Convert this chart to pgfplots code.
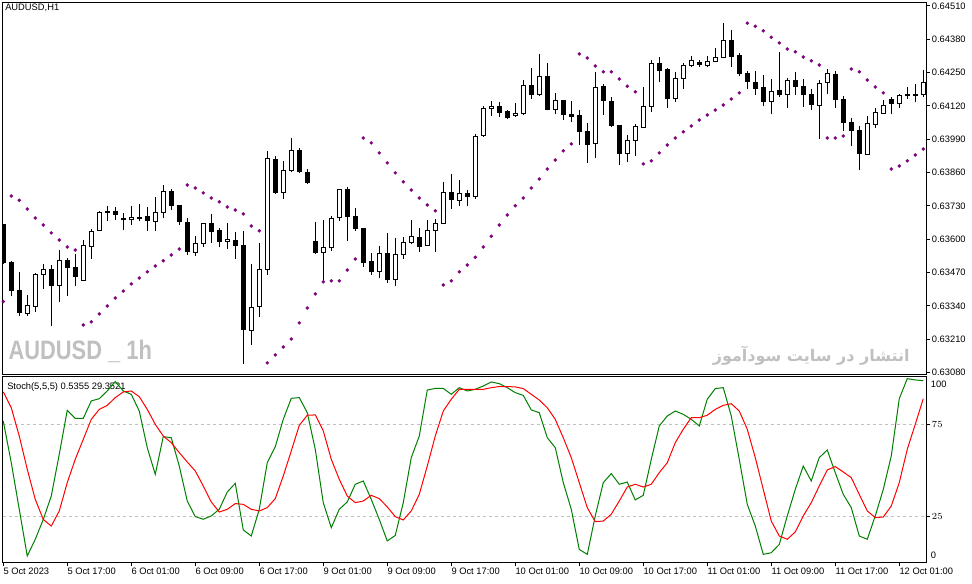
\documentclass[border=0pt]{standalone}
\usepackage{fontspec}
\setmainfont{Liberation Sans}
\newfontfamily\persianfont[Script=Arabic]{DejaVu Sans}
\usepackage{pgfplots}
\pgfplotsset{compat=1.18}
\usepackage{pgfplotstable}
\TeXXeTstate=1
\definecolor{sarc}{HTML}{800080}
\definecolor{kline}{HTML}{008000}
\definecolor{dline}{HTML}{FF0000}
\definecolor{wm}{HTML}{C0C0C0}

\pgfplotstableread{
i o h l c
0 0.63656 0.63660 0.63504 0.63509
1 0.63510 0.63516 0.63380 0.63400
2 0.63399 0.63473 0.63302 0.63314
3 0.63312 0.63383 0.63302 0.63340
4 0.63337 0.63469 0.63318 0.63464
5 0.63464 0.63503 0.63407 0.63483
6 0.63483 0.63499 0.63263 0.63419
7 0.63421 0.63558 0.63357 0.63518
8 0.63516 0.63526 0.63379 0.63489
9 0.63491 0.63543 0.63418 0.63454
10 0.63439 0.63597 0.63437 0.63577
11 0.63573 0.63639 0.63524 0.63631
12 0.63634 0.63712 0.63632 0.63705
13 0.63709 0.63730 0.63673 0.63704
14 0.63709 0.63725 0.63675 0.63696
15 0.63682 0.63702 0.63636 0.63677
16 0.63677 0.63730 0.63657 0.63686
17 0.63686 0.63738 0.63673 0.63683
18 0.63687 0.63725 0.63634 0.63673
19 0.63669 0.63764 0.63634 0.63705
20 0.63705 0.63812 0.63684 0.63785
21 0.63785 0.63795 0.63716 0.63731
22 0.63733 0.63733 0.63657 0.63669
23 0.63666 0.63682 0.63540 0.63552
24 0.63549 0.63613 0.63536 0.63585
25 0.63585 0.63663 0.63571 0.63663
26 0.63663 0.63699 0.63587 0.63630
27 0.63636 0.63643 0.63571 0.63591
28 0.63592 0.63664 0.63563 0.63600
29 0.63596 0.63627 0.63524 0.63575
30 0.63577 0.63633 0.63115 0.63248
31 0.63245 0.63503 0.63189 0.63335
32 0.63339 0.63585 0.63298 0.63483
33 0.63483 0.63943 0.63462 0.63916
34 0.63912 0.63924 0.63778 0.63782
35 0.63783 0.63904 0.63758 0.63869
36 0.63869 0.63994 0.63861 0.63947
37 0.63947 0.63955 0.63858 0.63864
38 0.63861 0.63873 0.63817 0.63822
39 0.63592 0.63668 0.63543 0.63548
40 0.63548 0.63675 0.63431 0.63569
41 0.63567 0.63690 0.63556 0.63682
42 0.63684 0.63795 0.63673 0.63795
43 0.63795 0.63803 0.63595 0.63688
44 0.63690 0.63722 0.63634 0.63641
45 0.63643 0.63643 0.63493 0.63509
46 0.63514 0.63546 0.63462 0.63474
47 0.63475 0.63575 0.63450 0.63546
48 0.63546 0.63624 0.63431 0.63443
49 0.63443 0.63604 0.63419 0.63542
50 0.63542 0.63610 0.63524 0.63588
51 0.63588 0.63675 0.63581 0.63612
52 0.63608 0.63644 0.63552 0.63571
53 0.63577 0.63675 0.63575 0.63635
54 0.63635 0.63679 0.63552 0.63663
55 0.63663 0.63824 0.63661 0.63783
56 0.63783 0.63855 0.63719 0.63756
57 0.63752 0.63831 0.63731 0.63780
58 0.63780 0.63792 0.63731 0.63766
59 0.63766 0.64010 0.63758 0.64002
60 0.64004 0.64119 0.64000 0.64111
61 0.64109 0.64140 0.64082 0.64119
62 0.64119 0.64136 0.64078 0.64094
63 0.64099 0.64103 0.64070 0.64074
64 0.64082 0.64132 0.64078 0.64092
65 0.64092 0.64220 0.64086 0.64201
66 0.64201 0.64268 0.64148 0.64164
67 0.64164 0.64323 0.64160 0.64236
68 0.64236 0.64288 0.64104 0.64106
69 0.64106 0.64171 0.64090 0.64142
70 0.64142 0.64143 0.64067 0.64086
71 0.64088 0.64140 0.64059 0.64078
72 0.64084 0.64104 0.63969 0.64020
73 0.64021 0.64054 0.63899 0.63969
74 0.63973 0.64253 0.63918 0.64193
75 0.64197 0.64206 0.64086 0.64141
76 0.64138 0.64155 0.64039 0.64043
77 0.64045 0.64046 0.63891 0.63934
78 0.63936 0.64006 0.63903 0.63986
79 0.63986 0.64049 0.63926 0.64041
80 0.64037 0.64194 0.64035 0.64119
81 0.64119 0.64298 0.64098 0.64287
82 0.64287 0.64310 0.64215 0.64259
83 0.64263 0.64267 0.64113 0.64148
84 0.64148 0.64251 0.64137 0.64228
85 0.64228 0.64287 0.64187 0.64279
86 0.64279 0.64314 0.64273 0.64298
87 0.64290 0.64298 0.64271 0.64283
88 0.64279 0.64314 0.64271 0.64294
89 0.64294 0.64345 0.64290 0.64310
90 0.64310 0.64443 0.64306 0.64376
91 0.64376 0.64415 0.64271 0.64314
92 0.64318 0.64326 0.64236 0.64248
93 0.64248 0.64255 0.64185 0.64216
94 0.64212 0.64255 0.64162 0.64189
95 0.64193 0.64240 0.64119 0.64138
96 0.64138 0.64224 0.64088 0.64177
97 0.64179 0.64329 0.64156 0.64163
98 0.64166 0.64228 0.64113 0.64218
99 0.64218 0.64253 0.64162 0.64197
100 0.64197 0.64224 0.64117 0.64166
101 0.64166 0.64185 0.64106 0.64125
102 0.64123 0.64221 0.63992 0.64209
103 0.64212 0.64263 0.64166 0.64248
104 0.64244 0.64257 0.64113 0.64146
105 0.64146 0.64158 0.64024 0.64055
106 0.64056 0.64073 0.63965 0.64024
107 0.64026 0.64042 0.63872 0.63934
108 0.63930 0.64080 0.63928 0.64053
109 0.64049 0.64111 0.64033 0.64095
110 0.64092 0.64142 0.64090 0.64123
111 0.64146 0.64154 0.64088 0.64131
112 0.64131 0.64166 0.64111 0.64162
113 0.64166 0.64193 0.64148 0.64160
114 0.64166 0.64205 0.64134 0.64160
115 0.64166 0.64259 0.64154 0.64212
}\candles

\pgfplotstableread{
i s
0 0.63357
1 0.63769
2 0.63752
3 0.63718
4 0.63683
5 0.63656
6 0.63625
7 0.63597
8 0.63570
9 0.63558
10 0.63266
11 0.63278
12 0.63309
13 0.63340
14 0.63371
15 0.63398
16 0.63426
17 0.63449
18 0.63473
19 0.63496
20 0.63516
21 0.63539
22 0.63562
23 0.63812
24 0.63800
25 0.63781
26 0.63761
27 0.63746
28 0.63726
29 0.63714
30 0.63699
31 0.63652
32 0.63633
33 0.63118
34 0.63149
35 0.63180
36 0.63211
37 0.63274
38 0.63332
39 0.63387
40 0.63434
41 0.63438
42 0.63438
43 0.63480
44 0.63523
45 0.63995
46 0.63976
47 0.63937
48 0.63898
49 0.63859
50 0.63824
51 0.63792
52 0.63761
53 0.63734
54 0.63711
55 0.63422
56 0.63438
57 0.63473
58 0.63500
59 0.63530
60 0.63570
61 0.63612
62 0.63656
63 0.63695
64 0.63731
65 0.63761
66 0.63800
67 0.63835
68 0.63874
69 0.63909
70 0.63945
71 0.63972
72 0.64323
73 0.64307
74 0.64276
75 0.64253
76 0.64253
77 0.64225
78 0.64197
79 0.64175
80 0.63894
81 0.63906
82 0.63937
83 0.63968
84 0.63995
85 0.64019
86 0.64042
87 0.64065
88 0.64085
89 0.64104
90 0.64124
91 0.64147
92 0.64171
93 0.64443
94 0.64431
95 0.64413
96 0.64388
97 0.64366
98 0.64342
99 0.64331
100 0.64311
101 0.64296
102 0.64280
103 0.63995
104 0.63995
105 0.64003
106 0.64264
107 0.64253
108 0.64221
109 0.64194
110 0.64171
111 0.63874
112 0.63886
113 0.63906
114 0.63929
115 0.63952
}\sar

\pgfplotstableread{
i k d
0 76.8 92.6
1 54.1 84.0
2 28.8 68.6
3 3.4 50.5
4 12.5 34.2
5 23.3 23.3
6 36.0 19.7
7 58.7 27.9
8 82.6 43.3
9 78.2 56.0
10 78.2 66.8
11 87.7 77.7
12 88.9 83.1
13 93.1 85.3
14 98.2 89.5
15 93.1 92.6
16 91.3 93.1
17 82.2 90.0
18 62.3 83.1
19 47.8 75.0
20 68.3 68.6
21 67.7 65.0
22 52.3 59.6
23 33.3 54.5
24 24.8 49.6
25 23.4 41.5
26 25.2 32.8
27 28.8 27.3
28 38.2 28.8
29 42.9 31.9
30 17.6 31.5
31 14.3 28.8
32 28.8 27.9
33 54.1 29.7
34 62.8 34.6
35 77.7 46.9
36 89.1 60.5
37 89.5 74.4
38 81.3 79.9
39 61.4 80.1
40 32.4 71.4
41 18.8 56.0
42 28.8 45.1
43 32.8 36.0
44 42.4 32.4
45 44.2 33.3
46 34.2 36.4
47 23.3 34.6
48 11.6 30.1
49 14.6 24.8
50 32.4 23.0
51 56.9 27.9
52 68.6 36.9
53 93.6 52.3
54 94.5 68.6
55 94.5 82.2
56 91.3 88.6
57 94.9 94.0
58 93.1 94.0
59 94.0 94.0
60 95.8 94.0
61 98.0 94.9
62 97.1 95.5
63 94.9 95.5
64 92.2 95.3
65 90.7 94.4
66 82.8 91.3
67 81.3 88.2
68 67.7 84.0
69 62.3 77.7
70 43.3 67.7
71 28.8 56.9
72 7.0 43.3
73 4.3 29.7
74 25.2 22.1
75 43.3 22.4
76 48.2 26.1
77 42.4 33.3
78 43.6 40.9
79 33.9 42.4
80 36.4 40.9
81 55.9 42.4
82 74.1 48.7
83 79.5 54.1
84 82.2 65.0
85 80.4 72.3
86 77.7 78.6
87 74.1 78.6
88 88.6 79.9
89 94.4 83.1
90 94.9 85.3
91 79.5 86.2
92 55.9 82.2
93 31.5 72.3
94 19.7 56.9
95 4.3 39.6
96 5.2 22.4
97 9.7 14.3
98 25.2 12.5
99 39.6 16.5
100 52.3 25.2
101 44.2 32.4
102 56.9 41.5
103 61.0 50.2
104 48.7 52.0
105 36.9 49.1
106 29.7 46.0
107 14.3 36.9
108 12.5 27.9
109 25.2 24.3
110 39.6 24.6
111 57.8 30.6
112 88.9 43.3
113 99.8 61.4
114 99.1 75.0
115 98.7 88.9
}\stoch

\pgfplotsset{candle/.style={draw=none, mark=none, forget plot}}

\begin{document}
\begin{tikzpicture}
\path[use as bounding box] (0,0) rectangle (729pt,438pt);
\fill[white] (0,0) rectangle (729pt,438pt);
% watermarks
\node[anchor=base west, inner sep=0pt, text=wm, font=\fontsize{20}{24}\selectfont\bfseries] at (6.2pt,168pt) {\scalebox{0.82}[1]{AUDUSD \_ 1h}};
\node[anchor=east, inner sep=0pt, text=wm, font=\fontsize{12}{14}\selectfont] at (682.5pt,171.2pt) {\persianfont\bfseries\beginR انتشار در سایت سودآموز\endR};

\begin{axis}[
  at={(2pt,157.3pt)}, anchor=south west,
  scale only axis, width=693pt, height=278.7pt,
  xmin=-0.075, xmax=115.425,
  ymin=0.630736, ymax=0.645229,
  xtick=\empty,
  ytick={0.6308,0.6321,0.6334,0.6347,0.6360,0.6373,0.6386,0.6399,0.6412,0.6425,0.6438,0.6451},
  ytick pos=right, yticklabel pos=right,
  tick align=outside, major tick length=2.25pt,
  tick style={black, line width=0.75pt},
  scaled y ticks=false,
  yticklabel style={font=\fontsize{7}{8}\selectfont, inner sep=1.5pt, /pgf/number format/.cd, fixed, fixed zerofill, precision=5, assume math mode=true},
  axis line style={line width=0.75pt},
]
\addplot[candle, error bars/.cd, y dir=plus, y explicit, error mark=none, error bar style={draw=black, line width=0.75pt}]
  table[x=i, y=l, y error plus expr={\thisrow{h}-\thisrow{l}}] {\candles};
\addplot[candle, error bars/.cd, y dir=plus, y explicit, error mark=none, error bar style={draw=black, line width=3.75pt}]
  table[x=i, y expr={min(\thisrow{o},\thisrow{c})-0.00002}, y error plus expr={abs(\thisrow{c}-\thisrow{o})+0.00004}] {\candles};
\addplot[candle, error bars/.cd, y dir=plus, y explicit, error mark=none, error bar style={draw=white, line width=2.25pt}]
  table[x=i, y expr={\thisrow{c}>\thisrow{o} ? \thisrow{o}+0.00002 : nan}, y error plus expr={max(\thisrow{c}-\thisrow{o}-0.00004,0)}] {\candles};
\addplot[only marks, mark=*, mark size=1.1pt, color=sarc] table[x=i, y=s] {\sar};
\end{axis}
\node[anchor=north west, inner sep=0pt, font=\fontsize{7}{8}\selectfont] at (3.75pt,435pt) {AUDUSD,H1};

\node[anchor=north west, inner sep=0pt, font=\fontsize{7}{8}\selectfont] at (5.25pt,151pt) {Stoch(5,5,5) 0.5355 29.3521};
\begin{axis}[
  at={(2pt,16pt)}, anchor=south west,
  scale only axis, width=693pt, height=139.25pt,
  xmin=-0.075, xmax=115.425, ymin=-0.2, ymax=100.7,
  xtick={0,8,...,112},
  xticklabels={5 Oct 2023,5 Oct 17:00,6 Oct 01:00,6 Oct 09:00,6 Oct 17:00,9 Oct 01:00,9 Oct 09:00,9 Oct 17:00,10 Oct 01:00,10 Oct 09:00,10 Oct 17:00,11 Oct 01:00,11 Oct 09:00,11 Oct 17:00,12 Oct 01:00},
  xtick pos=bottom,
  xticklabel style={anchor=north west, font=\fontsize{7}{8}\selectfont, inner sep=0pt, yshift=-1.5pt},
  ytick={25,75}, ytick pos=right, yticklabel pos=right,
  yticklabel style={font=\fontsize{7}{8}\selectfont, inner sep=1.5pt},
  tick align=outside, major tick length=2.25pt,
  tick style={black, line width=0.75pt},
  ymajorgrids, grid style={wm, dash pattern=on 2.25pt off 2.25pt, line width=0.75pt},
  axis line style={line width=0.75pt},
]
\addplot[kline, line width=0.75pt] table[x=i, y=k] {\stoch};
\addplot[dline, line width=0.75pt] table[x=i, y=d] {\stoch};
\end{axis}
\node[anchor=west, inner sep=0pt, font=\fontsize{7}{8}\selectfont] at (698pt,149.8pt) {100};
\node[anchor=west, inner sep=0pt, font=\fontsize{7}{8}\selectfont] at (698pt,21.5pt) {0};
\end{tikzpicture}
\end{document}
